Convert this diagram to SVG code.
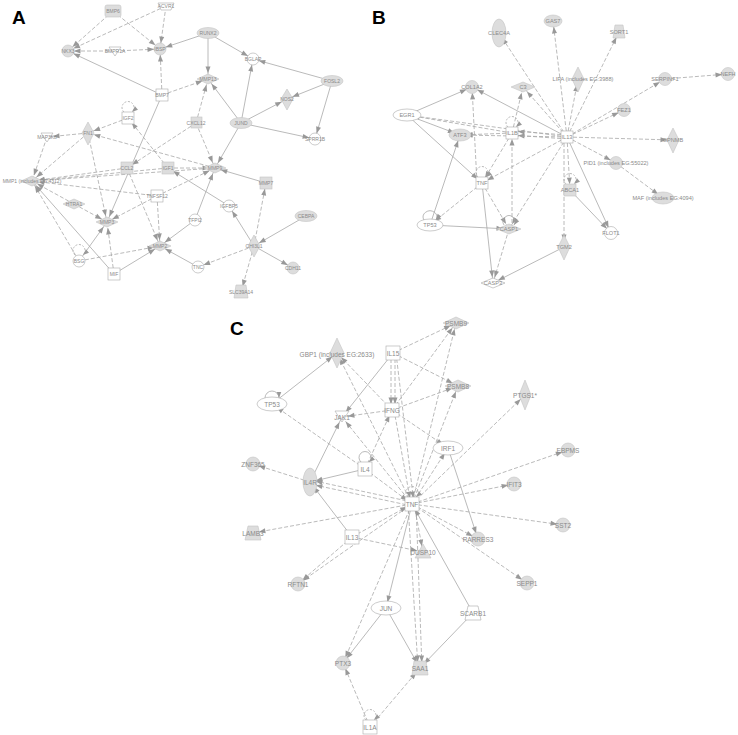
<svg xmlns="http://www.w3.org/2000/svg" width="738" height="735" viewBox="0 0 738 735">
<defs>
<marker id="a" viewBox="0 0 8 6" refX="15" refY="3" markerWidth="7" markerHeight="5" markerUnits="userSpaceOnUse" orient="auto" overflow="visible"><path d="M0,0L8,3L0,6z" fill="#999"/></marker>
<marker id="b" viewBox="0 0 8 6" refX="8" refY="3" markerWidth="6" markerHeight="4.5" markerUnits="userSpaceOnUse" orient="auto" overflow="visible"><path d="M0,0L8,3L0,6z" fill="#999"/></marker>
</defs>
<style>
.s,.d{stroke:#a8a8a8;stroke-width:0.8;fill:none;marker-end:url(#a)}
.d{stroke-dasharray:4 2}
.l{stroke:#a8a8a8;stroke-width:0.8;fill:none;marker-end:url(#b)}
.ld{stroke-dasharray:2 1.5}
.g{fill:#dddddd;stroke:#c4c4c4;stroke-width:0.6}
.o{fill:#ffffff;stroke:#aaaaaa;stroke-width:0.6}
text{font-family:"Liberation Sans",Arial,sans-serif;fill:#8a8a8a;text-anchor:middle;dominant-baseline:central}
.ta text{font-size:5px}
.tb text{font-size:5.6px}
.tc text{font-size:6.5px}
.lab{font-size:19px;font-weight:bold;fill:#000;text-anchor:start;dominant-baseline:auto}
</style>
<rect width="738" height="735" fill="#fff"/>
<text class="lab" x="12" y="24">A</text>
<text class="lab" x="372" y="24">B</text>
<text class="lab" x="230" y="335">C</text>

<g id="edges">
<!-- Panel A -->
<line class="d" x1="113" y1="11" x2="68" y2="51"/>
<line class="d" x1="113" y1="11" x2="160" y2="49"/>
<line class="d" x1="166" y1="6" x2="68" y2="51"/>
<line class="d" x1="166" y1="6" x2="160" y2="49"/>
<line class="d" x1="115" y1="51" x2="68" y2="51"/>
<line class="d" x1="115" y1="51" x2="160" y2="49"/>
<line class="s" x1="208" y1="33" x2="160" y2="49"/>
<line class="s" x1="208" y1="33" x2="253" y2="59"/>
<line class="s" x1="208" y1="33" x2="208" y2="79"/>
<line class="d" x1="162" y1="95" x2="160" y2="49"/>
<line class="s" x1="162" y1="95" x2="68" y2="51"/>
<line class="d" x1="162" y1="95" x2="208" y2="79"/>
<line class="s" x1="162" y1="95" x2="107" y2="222"/>
<line class="d" x1="196" y1="123" x2="208" y2="79"/>
<line class="s" x1="241" y1="123" x2="208" y2="79"/>
<line class="s" x1="241" y1="123" x2="253" y2="59"/>
<line class="s" x1="241" y1="123" x2="287" y2="99"/>
<line class="s" x1="241" y1="123" x2="315" y2="139"/>
<line class="s" x1="332" y1="81" x2="253" y2="59"/>
<line class="s" x1="332" y1="81" x2="287" y2="99"/>
<line class="s" x1="332" y1="81" x2="315" y2="139"/>
<line class="s" x1="241" y1="123" x2="215" y2="168"/>
<line class="d" x1="196" y1="123" x2="215" y2="168"/>
<line class="d" x1="196" y1="123" x2="127" y2="168"/>
<line class="d" x1="128" y1="118" x2="88" y2="133"/>
<line class="d" x1="88" y1="133" x2="47" y2="137"/>
<line class="d" x1="215" y1="168" x2="88" y2="133"/>
<line class="d" x1="88" y1="133" x2="32" y2="181"/>
<line class="d" x1="47" y1="137" x2="32" y2="181"/>
<line class="d" x1="88" y1="133" x2="107" y2="222"/>
<line class="d" x1="127" y1="168" x2="32" y2="181"/>
<line class="d" x1="168" y1="168" x2="32" y2="181"/>
<line class="d" x1="157" y1="196" x2="32" y2="181"/>
<line class="d" x1="74" y1="204" x2="32" y2="181"/>
<line class="d" x1="74" y1="204" x2="107" y2="222"/>
<line class="d" x1="79" y1="261" x2="32" y2="181"/>
<line class="s" x1="114" y1="274" x2="32" y2="181"/>
<line class="d" x1="114" y1="274" x2="107" y2="222"/>
<line class="s" x1="79" y1="261" x2="107" y2="222"/>
<line class="d" x1="157" y1="196" x2="107" y2="222"/>
<line class="d" x1="127" y1="168" x2="160" y2="246"/>
<line class="d" x1="157" y1="196" x2="160" y2="246"/>
<line class="d" x1="79" y1="261" x2="160" y2="246"/>
<line class="s" x1="114" y1="274" x2="160" y2="246"/>
<line class="s" x1="195" y1="220" x2="160" y2="246"/>
<line class="s" x1="198" y1="267" x2="160" y2="246"/>
<line class="d" x1="168" y1="168" x2="215" y2="168"/>
<line class="d" x1="157" y1="196" x2="215" y2="168"/>
<line class="s" x1="195" y1="220" x2="215" y2="168"/>
<line class="s" x1="266" y1="183" x2="215" y2="168"/>
<line class="d" x1="254" y1="246" x2="266" y2="183"/>
<line class="s" x1="306" y1="216" x2="254" y2="246"/>
<line class="s" x1="254" y1="246" x2="229" y2="206"/>
<line class="d" x1="254" y1="246" x2="198" y2="267"/>
<line class="s" x1="254" y1="246" x2="293" y2="268"/>
<line class="d" x1="254" y1="246" x2="241" y2="292"/>
<line class="s" x1="229" y1="206" x2="168" y2="168"/>
<line class="d" x1="215" y1="168" x2="32" y2="181"/>
<line class="d" x1="168" y1="168" x2="128" y2="118"/>
<!-- Panel B -->
<line class="d" x1="567" y1="137" x2="499" y2="33"/>
<line class="d" x1="567" y1="137" x2="553" y2="21"/>
<line class="d" x1="567" y1="137" x2="619" y2="32"/>
<line class="d" x1="567" y1="137" x2="578" y2="79"/>
<line class="d" x1="567" y1="137" x2="665" y2="79"/>
<line class="d" x1="567" y1="137" x2="624" y2="110"/>
<line class="d" x1="567" y1="137" x2="673" y2="140"/>
<line class="d" x1="567" y1="137" x2="616" y2="163"/>
<line class="d" x1="616" y1="163" x2="663" y2="198"/>
<line class="d" x1="567" y1="137" x2="570" y2="190"/>
<line class="d" x1="564" y1="137" x2="564" y2="247"/>
<line class="s" x1="567" y1="137" x2="611" y2="233"/>
<line class="s" x1="570" y1="190" x2="611" y2="233"/>
<line class="d" x1="567" y1="137" x2="523" y2="87"/>
<line class="s" x1="567" y1="137" x2="472" y2="87"/>
<line class="d" x1="567" y1="135" x2="512" y2="131"/>
<line class="d" x1="567" y1="139" x2="512" y2="135"/>
<line class="d" x1="567" y1="137" x2="460" y2="135"/>
<line class="d" x1="567" y1="137" x2="407" y2="115"/>
<line class="d" x1="567" y1="137" x2="482" y2="183"/>
<line class="d" x1="567" y1="137" x2="509" y2="229"/>
<line class="d" x1="665" y1="79" x2="728" y2="74"/>
<line class="s" x1="407" y1="115" x2="472" y2="87"/>
<line class="s" x1="407" y1="115" x2="460" y2="135"/>
<line class="s" x1="407" y1="115" x2="482" y2="183"/>
<line class="s" x1="430" y1="225" x2="460" y2="135"/>
<line class="d" x1="482" y1="183" x2="430" y2="225"/>
<line class="d" x1="482" y1="183" x2="509" y2="229"/>
<line class="s" x1="482" y1="183" x2="493" y2="283"/>
<line class="s" x1="430" y1="225" x2="509" y2="229"/>
<line class="d" x1="509" y1="229" x2="493" y2="283"/>
<line class="s" x1="564" y1="247" x2="493" y2="283"/>
<line class="d" x1="477" y1="183" x2="472" y2="87"/>
<line class="d" x1="512" y1="133" x2="460" y2="135"/>
<line class="d" x1="512" y1="133" x2="407" y2="115"/>
<line class="d" x1="512" y1="133" x2="523" y2="87"/>
<line class="d" x1="512" y1="133" x2="482" y2="183"/>
<line class="d" x1="512" y1="229" x2="512" y2="133"/>
<!-- Panel C -->
<line class="s" x1="272" y1="404" x2="337" y2="353"/>
<line class="s" x1="393" y1="353" x2="342" y2="417"/>
<line class="d" x1="391" y1="353" x2="391" y2="410"/>
<line class="d" x1="395" y1="353" x2="395" y2="410"/>
<line class="d" x1="393" y1="353" x2="456" y2="323"/>
<line class="d" x1="393" y1="353" x2="458" y2="386"/>
<line class="d" x1="396" y1="353" x2="414" y2="504"/>
<line class="d" x1="392" y1="410" x2="337" y2="353"/>
<line class="d" x1="392" y1="410" x2="342" y2="417"/>
<line class="d" x1="392" y1="410" x2="456" y2="323"/>
<line class="d" x1="392" y1="410" x2="458" y2="386"/>
<line class="d" x1="392" y1="410" x2="448" y2="448"/>
<line class="d" x1="394" y1="410" x2="411" y2="504"/>
<line class="d" x1="365" y1="469" x2="392" y2="410"/>
<line class="d" x1="365" y1="469" x2="272" y2="404"/>
<line class="s" x1="365" y1="469" x2="310" y2="482"/>
<line class="s" x1="310" y1="482" x2="342" y2="417"/>
<line class="d" x1="310" y1="482" x2="253" y2="464"/>
<line class="d" x1="412" y1="502" x2="310" y2="480"/>
<line class="d" x1="412" y1="506" x2="310" y2="484"/>
<line class="d" x1="412" y1="504" x2="337" y2="353"/>
<line class="d" x1="412" y1="504" x2="342" y2="417"/>
<line class="d" x1="412" y1="504" x2="456" y2="323"/>
<line class="d" x1="412" y1="504" x2="458" y2="386"/>
<line class="d" x1="412" y1="504" x2="448" y2="448"/>
<line class="d" x1="412" y1="504" x2="525" y2="395"/>
<line class="d" x1="412" y1="504" x2="568" y2="450"/>
<line class="d" x1="412" y1="504" x2="514" y2="484"/>
<line class="d" x1="412" y1="504" x2="563" y2="525"/>
<line class="d" x1="412" y1="504" x2="478" y2="539"/>
<line class="d" x1="412" y1="504" x2="527" y2="583"/>
<line class="s" x1="448" y1="448" x2="478" y2="539"/>
<line class="d" x1="412" y1="504" x2="253" y2="533"/>
<line class="d" x1="412" y1="504" x2="298" y2="584"/>
<line class="d" x1="352" y1="537" x2="298" y2="584"/>
<line class="d" x1="352" y1="537" x2="412" y2="504"/>
<line class="s" x1="352" y1="537" x2="310" y2="482"/>
<line class="d" x1="352" y1="537" x2="423" y2="552"/>
<line class="d" x1="414" y1="504" x2="423" y2="552"/>
<line class="s" x1="412" y1="504" x2="386" y2="608"/>
<line class="d" x1="412" y1="504" x2="343" y2="663"/>
<line class="d" x1="408" y1="504" x2="418" y2="668"/>
<line class="d" x1="416" y1="504" x2="422" y2="668"/>
<line class="s" x1="386" y1="608" x2="343" y2="663"/>
<line class="s" x1="386" y1="608" x2="420" y2="668"/>
<line class="s" x1="473" y1="613" x2="412" y2="504"/>
<line class="s" x1="473" y1="613" x2="420" y2="668"/>
<line class="d" x1="370" y1="727" x2="343" y2="663"/>
<line class="d" x1="370" y1="727" x2="420" y2="668"/>
<line class="d" x1="365" y1="469" x2="412" y2="504"/>
</g>

<g id="loops">
<path class="l ld" d="M124,112 A6,6 0 1 1 132,112"/>
<path class="l ld" d="M75,255 A6,6 0 1 1 83,255"/>
<path class="l ld" d="M508,127 A6,6 0 1 1 516,127"/>
<path class="l ld" d="M478,177 A6,6 0 1 1 486,177"/>
<path class="l" d="M424,220 A7,6 0 1 1 436,220"/>
<path class="l" d="M504,225 A6,6 0 1 1 514,225"/>
<path class="l ld" d="M566,184 A6,6 0 1 1 574,184"/>
<path class="l" d="M265,398 A7,7 0 1 1 279,398"/>
<path class="l" d="M361,462 A6,6 0 1 1 369,462"/>
<path class="l ld" d="M408,497 A6,6 0 1 1 416,497"/>
<path class="l ld" d="M366,720 A6,6 0 1 1 374,720"/>
</g>

<!-- Panel A nodes -->
<g class="ta">
<g id="A-BMP6"><rect class="g" x="105" y="5" width="16" height="12" rx="2"/><text x="113" y="11">BMP6</text></g>
<g id="A-ACVR1"><path class="o" d="M158,3 L174,3 L171,10 L161,10 Z"/><text x="166" y="6">ACVR1</text></g>
<g id="A-NKX3"><circle class="g" cx="68" cy="51" r="6"/><text x="68" y="51">NKX3</text></g>
<g id="A-BMPR1A"><path class="o" d="M109,47 L121,47 L115,56 Z"/><text x="115" y="51">BMPR1A</text></g>
<g id="A-IBSP"><circle class="g" cx="160" cy="49" r="6"/><text x="160" y="49">IBSP</text></g>
<g id="A-BMP7"><rect class="o" x="156" y="89" width="12" height="12"/><text x="162" y="95">BMP7</text></g>
<g id="A-RUNX2"><ellipse class="g" cx="208" cy="33" rx="11" ry="5.5"/><text x="208" y="33">RUNX2</text></g>
<g id="A-BGLAP"><circle class="o" cx="253" cy="59" r="6"/><text x="253" y="59">BGLAP</text></g>
<g id="A-MMP13"><path class="g" d="M197,79 L208,74 L219,79 L208,84 Z"/><text x="208" y="79">MMP13</text></g>
<g id="A-FOSL2"><ellipse class="g" cx="332" cy="81" rx="11" ry="5.5"/><text x="332" y="81">FOSL2</text></g>
<g id="A-NOS2"><path class="g" d="M287,89 L293,99 L287,110 L281,99 Z"/><text x="287" y="99">NOS2</text></g>
<g id="A-JUND"><ellipse class="g" cx="241" cy="123" rx="11" ry="5.5"/><text x="241" y="123">JUND</text></g>
<g id="A-CXCL12"><rect class="g" x="191" y="117" width="11" height="11"/><text x="196" y="123">CXCL12</text></g>
<g id="A-SPRR1B"><circle class="o" cx="315" cy="139" r="6"/><text x="315" y="139">SPRR1B</text></g>
<g id="A-IGF2"><rect class="o" x="122" y="112" width="12" height="12"/><text x="128" y="118">IGF2</text></g>
<g id="A-FN1"><path class="g" d="M88,122 L94,133 L88,145 L82,133 Z"/><text x="88" y="133">FN1</text></g>
<g id="A-MAP3K8"><path class="o" d="M41,133 L53,133 L47,142 Z"/><text x="47" y="137">MAP3K8</text></g>
<g id="A-MMP1"><path class="g" d="M21,181 L32,176 L43,181 L32,186 Z"/><text x="32" y="181">MMP1 (includes EG:4312)</text></g>
<g id="A-HTRA1"><path class="g" d="M63,204 L74,199 L85,204 L74,209 Z"/><text x="74" y="204">HTRA1</text></g>
<g id="A-CCL2"><rect class="g" x="121" y="162" width="12" height="12"/><text x="127" y="168">CCL2</text></g>
<g id="A-IGF1"><rect class="g" x="162" y="162" width="12" height="12"/><text x="168" y="168">IGF1</text></g>
<g id="A-TNFSF12"><rect class="o" x="151" y="190" width="12" height="12"/><text x="157" y="196">TNFSF12</text></g>
<g id="A-MMP3"><path class="g" d="M96,222 L107,217 L118,222 L107,227 Z"/><text x="107" y="222">MMP3</text></g>
<g id="A-MMP2"><path class="g" d="M149,246 L160,241 L171,246 L160,251 Z"/><text x="160" y="246">MMP2</text></g>
<g id="A-BSG"><circle class="o" cx="79" cy="261" r="6"/><text x="79" y="261">BSG</text></g>
<g id="A-MIF"><rect class="o" x="108" y="268" width="12" height="12"/><text x="114" y="274">MIF</text></g>
<g id="A-MMP9"><path class="g" d="M204,168 L215,163 L226,168 L215,173 Z"/><text x="215" y="168">MMP9</text></g>
<g id="A-MMP7"><rect class="g" x="260" y="177" width="12" height="12"/><text x="266" y="183">MMP7</text></g>
<g id="A-IGFBP5"><circle class="o" cx="229" cy="206" r="6"/><text x="229" y="206">IGFBP5</text></g>
<g id="A-TFPI2"><circle class="o" cx="195" cy="220" r="6"/><text x="195" y="220">TFPI2</text></g>
<g id="A-CEBPA"><ellipse class="g" cx="306" cy="216" rx="11" ry="5.5"/><text x="306" y="216">CEBPA</text></g>
<g id="A-CHI3L1"><path class="g" d="M254,235 L260,246 L254,257 L248,246 Z"/><text x="254" y="246">CHI3L1</text></g>
<g id="A-TNC"><circle class="o" cx="198" cy="267" r="6"/><text x="198" y="267">TNC</text></g>
<g id="A-CDH11"><circle class="g" cx="293" cy="268" r="6"/><text x="293" y="268">CDH11</text></g>
<g id="A-SLC39A14"><path class="g" d="M236,285 L246,285 L248,298 L234,298 Z"/><text x="241" y="292">SLC39A14</text></g>
</g>

<!-- Panel B nodes -->
<g class="tb">
<g id="B-CLEC4A"><ellipse class="g" cx="499" cy="33" rx="7" ry="14"/><text x="499" y="33">CLEC4A</text></g>
<g id="B-GAS7"><ellipse class="g" cx="553" cy="21" rx="9" ry="6"/><text x="553" y="21">GAS7</text></g>
<g id="B-SORT1"><path class="g" d="M615,25 L623,25 L625,38 L613,38 Z"/><text x="619" y="32">SORT1</text></g>
<g id="B-LIPA"><path class="g" d="M578,67 L584,79 L578,92 L572,79 Z"/><text x="583" y="79">LIPA (includes EG:3988)</text></g>
<g id="B-SERPINF1"><circle class="g" cx="665" cy="79" r="6.5"/><text x="665" y="79">SERPINF1</text></g>
<g id="B-NEFH"><circle class="g" cx="728" cy="74" r="6.5"/><text x="728" y="74">NEFH</text></g>
<g id="B-FEZ1"><circle class="g" cx="624" cy="110" r="6.5"/><text x="624" y="110">FEZ1</text></g>
<g id="B-GPNMB"><path class="g" d="M673,128 L679,140 L673,153 L667,140 Z"/><text x="673" y="140">GPNMB</text></g>
<g id="B-COL1A2"><circle class="g" cx="472" cy="87" r="6.5"/><text x="472" y="87">COL1A2</text></g>
<g id="B-C3"><path class="g" d="M511,87 L523,82 L535,87 L523,92 Z"/><text x="523" y="87">C3</text></g>
<g id="B-EGR1"><ellipse class="o" cx="407" cy="115" rx="14" ry="6"/><text x="407" y="115">EGR1</text></g>
<g id="B-ATF3"><ellipse class="g" cx="460" cy="135" rx="11" ry="6"/><text x="460" y="135">ATF3</text></g>
<g id="B-IL1B"><rect class="o" x="506" y="127" width="12" height="12"/><text x="512" y="133">IL1B</text></g>
<g id="B-IL13"><rect class="o" x="561" y="131" width="12" height="12"/><text x="567" y="137">IL13</text></g>
<g id="B-TNF"><rect class="o" x="476" y="177" width="12" height="12"/><text x="482" y="183">TNF</text></g>
<g id="B-TP53"><ellipse class="o" cx="430" cy="225" rx="13" ry="6"/><text x="430" y="225">TP53</text></g>
<g id="B-CASP1"><path class="g" d="M497,229 L509,224 L521,229 L509,234 Z"/><text x="509" y="229">CASP1</text></g>
<g id="B-CASP3"><path class="o" d="M481,283 L493,278 L505,283 L493,288 Z"/><text x="493" y="283">CASP3</text></g>
<g id="B-TGM2"><path class="g" d="M564,235 L570,247 L564,260 L558,247 Z"/><text x="564" y="247">TGM2</text></g>
<g id="B-PID1"><circle class="g" cx="616" cy="163" r="6.5"/><text x="616" y="163">PID1 (includes EG:55022)</text></g>
<g id="B-MAF"><ellipse class="g" cx="663" cy="198" rx="11" ry="6"/><text x="663" y="198">MAF (includes EG:4094)</text></g>
<g id="B-ABCA1"><rect class="g" x="564" y="184" width="12" height="12"/><text x="570" y="190">ABCA1</text></g>
<g id="B-FLOT1"><circle class="o" cx="611" cy="233" r="6.5"/><text x="611" y="233">FLOT1</text></g>
</g>

<!-- Panel C nodes -->
<g class="tc">
<g id="C-GBP1"><path class="g" d="M337,338 L344,353 L337,368 L330,353 Z"/><text x="337" y="354">GBP1 (includes EG:2633)</text></g>
<g id="C-IL15"><rect class="o" x="386" y="346" width="14" height="14"/><text x="393" y="353">IL15</text></g>
<g id="C-TP53"><ellipse class="o" cx="272" cy="404" rx="15" ry="7"/><text x="272" y="404">TP53</text></g>
<g id="C-JAK1"><path class="o" d="M335,411 L349,411 L342,422 Z"/><text x="342" y="417">JAK1</text></g>
<g id="C-IFNG"><rect class="o" x="385" y="403" width="14" height="14"/><text x="392" y="410">IFNG</text></g>
<g id="C-IL4"><rect class="o" x="358" y="462" width="14" height="14"/><text x="365" y="469">IL4</text></g>
<g id="C-ZNF365"><circle class="g" cx="253" cy="464" r="7"/><text x="253" y="464">ZNF365</text></g>
<g id="C-IL4R"><ellipse class="g" cx="310" cy="482" rx="7" ry="14"/><text x="310" y="482">IL4R</text></g>
<g id="C-TNF"><rect class="o" x="405" y="497" width="14" height="14"/><text x="412" y="504">TNF</text></g>
<g id="C-PSMB9"><path class="g" d="M443,323 L456,317 L469,323 L456,329 Z"/><text x="456" y="323">PSMB9</text></g>
<g id="C-PSMB8"><path class="g" d="M445,386 L458,380 L471,386 L458,392 Z"/><text x="458" y="386">PSMB8</text></g>
<g id="C-PTGS1"><path class="g" d="M525,380 L531,395 L525,410 L519,395 Z"/><text x="525" y="395">PTGS1*</text></g>
<g id="C-IRF1"><ellipse class="o" cx="448" cy="448" rx="15" ry="7"/><text x="448" y="448">IRF1</text></g>
<g id="C-EBPMS"><circle class="g" cx="568" cy="450" r="7"/><text x="568" y="450">EBPMS</text></g>
<g id="C-IFIT3"><circle class="g" cx="514" cy="484" r="7"/><text x="514" y="484">IFIT3</text></g>
<g id="C-LAMB3"><path class="g" d="M248,526 L258,526 L261,540 L245,540 Z"/><text x="253" y="533">LAMB3</text></g>
<g id="C-IL13"><rect class="o" x="345" y="530" width="14" height="14"/><text x="352" y="537">IL13</text></g>
<g id="C-RFTN1"><circle class="g" cx="298" cy="584" r="7"/><text x="298" y="584">RFTN1</text></g>
<g id="C-DUSP10"><path class="g" d="M423,544 L431,558 L415,558 Z"/><text x="423" y="552">DUSP10</text></g>
<g id="C-RARRES3"><circle class="g" cx="478" cy="539" r="7"/><text x="478" y="539">RARRES3</text></g>
<g id="C-SST2"><circle class="g" cx="563" cy="525" r="7"/><text x="563" y="525">SST2</text></g>
<g id="C-SEPP1"><circle class="g" cx="527" cy="583" r="7"/><text x="527" y="583">SEPP1</text></g>
<g id="C-JUN"><ellipse class="o" cx="386" cy="608" rx="15" ry="7"/><text x="386" y="608">JUN</text></g>
<g id="C-SCARB1"><path class="o" d="M468,606 L478,606 L481,620 L465,620 Z"/><text x="473" y="613">SCARB1</text></g>
<g id="C-PTX3"><circle class="g" cx="343" cy="663" r="7"/><text x="343" y="663">PTX3</text></g>
<g id="C-SAA1"><path class="g" d="M414,661 L426,661 L428,675 L412,675 Z"/><text x="420" y="668">SAA1</text></g>
<g id="C-IL1A"><rect class="o" x="363" y="720" width="14" height="14"/><text x="370" y="727">IL1A</text></g>
</g>
</svg>
